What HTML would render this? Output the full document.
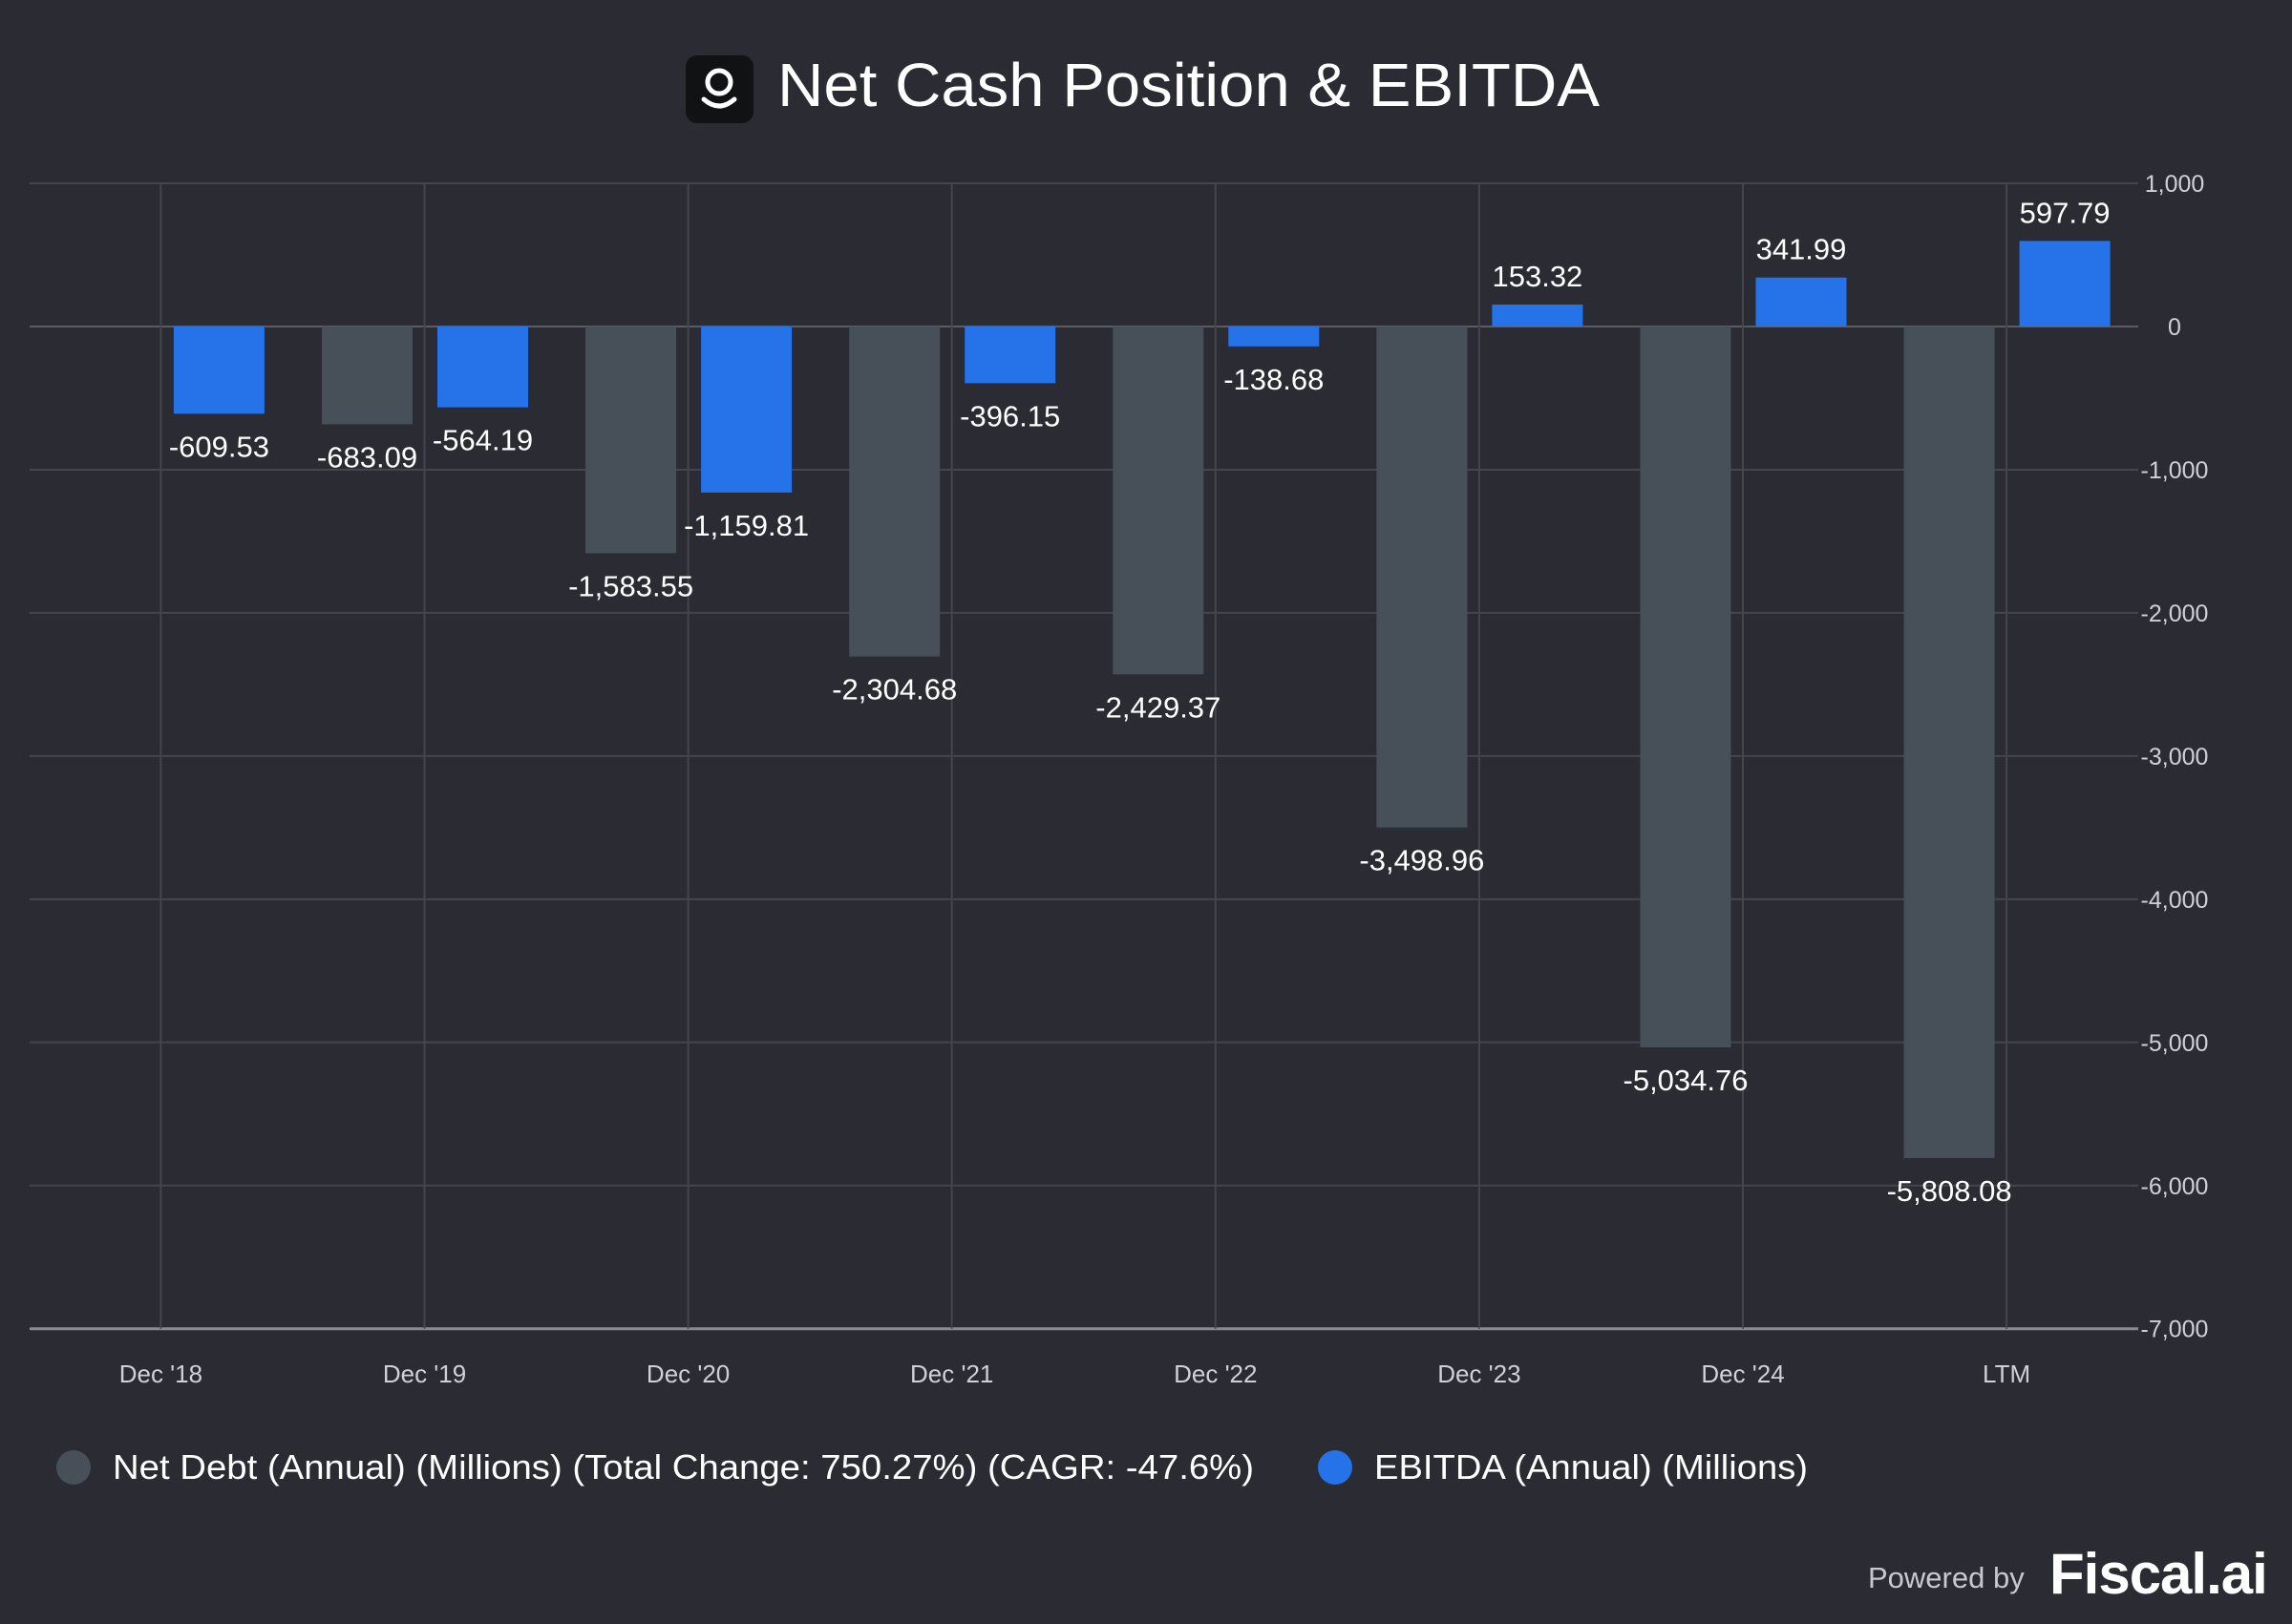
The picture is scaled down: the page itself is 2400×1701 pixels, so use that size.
<!DOCTYPE html>
<html><head><meta charset="utf-8"><style>
html,body{margin:0;padding:0;background:#2a2b33;}
svg{display:block;font-family:"Liberation Sans",Arial,sans-serif;}
</style></head><body>
<svg id="chart" width="2400" height="1701" viewBox="0 0 2400 1701">
<rect width="2400" height="1701" fill="#2a2b33"/>
<g>
<rect x="718" y="58" width="71" height="71" rx="12" fill="#111214"/>
<circle cx="753" cy="86" r="12" fill="none" stroke="#fff" stroke-width="5"/>
<path d="M737 104 Q753 118 769 104" fill="none" stroke="#fff" stroke-width="5" stroke-linecap="round"/>
<text x="814" y="111" font-size="64" fill="#ffffff" textLength="861" lengthAdjust="spacingAndGlyphs">Net Cash Position &amp; EBITDA</text>
</g>
<g id="grid"></g><g id="bars"></g><g id="labels"></g>
<g>
<g><circle cx="77" cy="1537" r="18" fill="#475059"/>
<text x="118" y="1549" font-size="36" fill="#ffffff" textLength="1195" lengthAdjust="spacingAndGlyphs">Net Debt (Annual) (Millions) (Total Change: 750.27%) (CAGR: -47.6%)</text></g>
<g><circle cx="1398" cy="1537" r="18" fill="#2672e8"/>
<text x="1439" y="1549" font-size="36" fill="#ffffff" textLength="454" lengthAdjust="spacingAndGlyphs">EBITDA (Annual) (Millions)</text></g>
</g>
<g>
<text x="1956" y="1663" font-size="31" fill="#c8c9cf">Powered by</text>
<text x="2146" y="1669" font-size="60" font-weight="bold" fill="#ffffff" letter-spacing="-1">Fiscal.ai</text>
</g>
</svg>
<script>
const categories=["Dec '18","Dec '19","Dec '20","Dec '21","Dec '22","Dec '23","Dec '24","LTM"];
const netDebt=[null,-683.09,-1583.55,-2304.68,-2429.37,-3498.96,-5034.76,-5808.08];
const ebitda=[-609.53,-564.19,-1159.81,-396.15,-138.68,153.32,341.99,597.79];
const yTicks=[1000,0,-1000,-2000,-3000,-4000,-5000,-6000,-7000];
const yTickLabels=["1,000","0","-1,000","-2,000","-3,000","-4,000","-5,000","-6,000","-7,000"];
const NS="http://www.w3.org/2000/svg";
const L=31,R=2239;
function y(v){return 342-v*0.14996;}
function x(i){return 168.4+i*276.1;}
function mk(tag,a,p){const e=document.createElementNS(NS,tag);for(const k in a)e.setAttribute(k,a[k]);p.appendChild(e);return e;}
function fmt(v){return v.toLocaleString('en-US',{minimumFractionDigits:2,maximumFractionDigits:2});}
const grid=document.getElementById('grid'),bars=document.getElementById('bars'),labels=document.getElementById('labels');
yTicks.forEach((t,i)=>{
 const ln=mk('line',{x1:L,x2:R,y1:y(t),y2:y(t),stroke:t===-7000?'#8a8b92':(t===0?'#5a5b63':'#44454d'),'stroke-width':t===-7000?3:2},grid);
 
 
 const tx=mk('text',{x:2277,y:y(t)+9,'font-size':25,fill:'#d0d1d6','text-anchor':'middle'},grid);
 tx.textContent=yTickLabels[i];
 
 
});
categories.forEach((c,i)=>{
 const ln=mk('line',{x1:x(i),x2:x(i),y1:y(1000),y2:y(-7000),stroke:'#44454d','stroke-width':2},grid);
 
 
 const tx=mk('text',{x:x(i),y:1448,'font-size':26,fill:'#d0d1d6','text-anchor':'middle'},grid);
 tx.textContent=c;
 
 
});
function drawBar(v,cx,color,name){
 if(v===null)return;
 const w=95,y0=y(0),y1=y(v);
 const r=mk('rect',{x:cx-w/2,y:Math.min(y0,y1),width:w,height:Math.abs(y1-y0),fill:color},bars);
 
 
 const t=mk('text',{x:cx,y:v<0?y1+45:y1-19,'font-size':31,fill:'#ffffff','text-anchor':'middle'},labels);
 t.textContent=fmt(v);
 
 
}
categories.forEach((c,i)=>{
 drawBar(netDebt[i],x(i)-60,'#475059','net-debt-bar');
 drawBar(ebitda[i],x(i)+61,'#2672e8','ebitda-bar');
});
</script>
</body></html>
